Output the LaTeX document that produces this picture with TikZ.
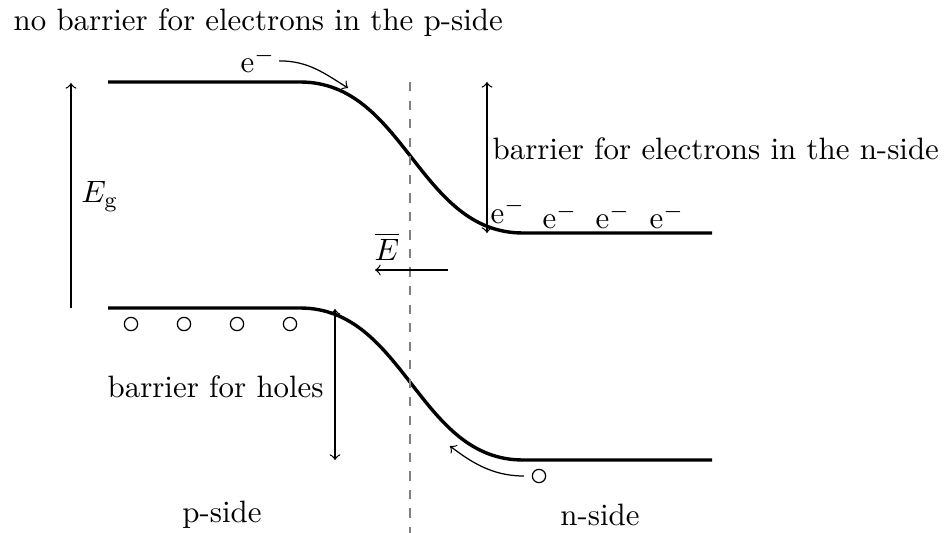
\documentclass[tikz,border=0pt]{standalone}
\begin{document}
\begin{tikzpicture}[x=0.3236pt,y=-0.3236pt,
  band/.style={line width=1.1pt},
  thinarrow/.style={->,line width=0.4pt},
  dbl/.style={<->,line width=0.4pt},
  hole/.style={circle,draw,line width=0.4pt,minimum size=4.3pt,inner sep=0pt},
  lbl/.style={inner sep=0pt},
  el/.style={inner sep=1pt},
  sep/.style={gray,dashed,line width=0.5pt}]
\useasboundingbox (0,0) rectangle (952,533);
% bands
\coordinate (c1a) at (108,82);
\coordinate (c1b) at (300,82);
\coordinate (c1c) at (523,233);
\coordinate (c1d) at (712,233);
\coordinate (c2a) at (108,308);
\coordinate (c2b) at (300,308);
\coordinate (c2c) at (523,460);
\coordinate (c2d) at (712,460);
\draw[band] (c1a) -- (c1b) .. controls (405,82) and (418,233) .. (c1c) -- (c1d);
\draw[band] (c2a) -- (c2b) .. controls (405,308) and (418,460) .. (c2c) -- (c2d);
% junction
\coordinate (jt) at (410,82);
\coordinate (jb) at (410,533);
\draw[sep] (jt) -- (jb);
% band gap
\coordinate (gb) at (71,308);
\coordinate (gt) at (71,83);
\draw[thinarrow] (gb) -- (gt);
\node[lbl,anchor=base] (Eg) at (100,203) {$E_{\mathrm{g}}$};
% title
\node[lbl,anchor=base west] (title) at (13,31) {no barrier for electrons in the p-side};
% top electron
\node[el,anchor=base] (e1) at (258,73) {e$^-$};
\coordinate (e1t) at (348,88);
\draw[thinarrow] (e1.east) to[out=0,in=148] (e1t);
% barrier electrons
\coordinate (bet) at (487,82);
\coordinate (beb) at (487,233);
\draw[dbl] (bet) -- (beb);
\node[lbl,anchor=base west] (betext) at (492,160) {barrier for electrons in the n-side};
\node[el,anchor=base] (e2) at (508,223) {e$^-$};
\node[el,anchor=base] (e3) at (560,229) {e$^-$};
\node[el,anchor=base] (e4) at (613,229) {e$^-$};
\node[el,anchor=base] (e5) at (667,229) {e$^-$};
% field
\node[lbl,anchor=base] (Ebar) at (387,260) {$\overline{E}$};
\coordinate (fs) at (448,270);
\coordinate (fe) at (375,270);
\draw[thinarrow] (fs) -- (fe);
% holes
\node[hole] (h1) at (131,324) {};
\node[hole] (h2) at (184,324) {};
\node[hole] (h3) at (237,324) {};
\node[hole] (h4) at (290,324) {};
\coordinate (bht) at (335,309);
\coordinate (bhb) at (335,460);
\draw[dbl] (bht) -- (bhb);
\node[lbl,anchor=base west] (bhtext) at (107,397) {barrier for holes};
\node[hole] (h5) at (539,476) {};
\coordinate (h5t) at (450,446);
\draw[thinarrow,shorten <=2.5pt] (h5.west) to[out=180,in=-38] (h5t);
% sides
\node (pside) at (222,515) {p-side};
\node (nside) at (600,515) {n-side};
\end{tikzpicture}
\end{document}
